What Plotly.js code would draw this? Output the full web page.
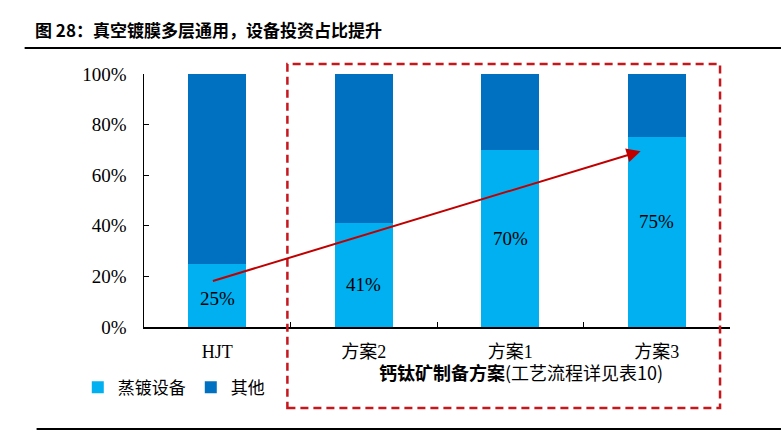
<!DOCTYPE html>
<html>
<head>
<meta charset="utf-8">
<script src="https://cdn.plot.ly/plotly-3.0.1.min.js"></script>
<style>html,body{margin:0;padding:0;background:#fff;}</style>
</head>
<body>
<div id="chart" style="width:781px;height:433px;"></div>
<script>
const categories = ["HJT", "方案2", "方案1", "方案3"];
const evaporation = [25, 41, 70, 75];
const other = [75, 59, 30, 25];
const shareLabels = ["25%", "41%", "70%", "75%"];

const serif = "Liberation Serif, Noto Sans CJK SC, serif";
const cjk = "Noto Sans CJK SC, sans-serif";
const labelShift = [-3, -9, 0, 11];

const traces = [
  {
    type: "bar",
    name: "蒸镀设备",
    x: categories,
    y: evaporation,
    marker: { color: "#00B0F0" },
    hoverinfo: "skip",
  },
  {
    type: "bar",
    name: "其他",
    x: categories,
    y: other,
    marker: { color: "#0070C0" },
    hoverinfo: "skip",
  },
];

const annotations = categories.map((c, i) => ({
  x: c,
  y: evaporation[i] / 2,
  xref: "x",
  yref: "y",
  text: shareLabels[i],
  showarrow: false,
  yshift: labelShift[i],
  font: { family: serif, size: 19, color: "#000" },
}));

// trend arrow from HJT to 方案3
annotations.push({
  x: 2.89, y: 69.5, ax: -0.04, ay: 18,
  xref: "x", yref: "y", axref: "x", ayref: "y",
  text: "", showarrow: true,
  arrowhead: 2, arrowsize: 1.4, arrowwidth: 2, arrowcolor: "#C00000",
});

annotations.push({
  x: 0.644, y: -0.237, xref: "paper", yref: "paper",
  text: "<b>钙钛矿制备方案</b>(工艺流程详见表10)",
  showarrow: false,
  font: { family: cjk, size: 18, color: "#000" },
});

const layout = {
  width: 781,
  height: 433,
  margin: { l: 143.5, r: 51, t: 74, b: 106 },
  paper_bgcolor: "#fff",
  plot_bgcolor: "#fff",
  barmode: "stack",
  bargap: 0.605,
  title: {
    text: "<b>图 28：真空镀膜多层通用，设备投资占比提升</b>",
    x: 35 / 781, xanchor: "left", xref: "container",
    y: 1 - 31 / 433, yanchor: "middle",
    font: { family: cjk, size: 17, color: "#000" },
  },
  xaxis: {
    showline: true, linecolor: "#000", linewidth: 1.5,
    ticks: "inside", tickson: "boundaries", ticklen: 5, tickcolor: "#000",
    tickfont: { family: serif, size: 18, color: "#000" },
    ticklabelstandoff: 8,
    showgrid: false, zeroline: false,
  },
  yaxis: {
    range: [0, 100], dtick: 20, ticksuffix: "%",
    showline: true, linecolor: "#000", linewidth: 1.5,
    ticks: "inside", ticklen: 5, tickcolor: "#000",
    tickfont: { family: serif, size: 19, color: "#000" },
    ticklabelstandoff: 12,
    showgrid: false, zeroline: false,
  },
  showlegend: true,
  legend: {
    orientation: "h",
    x: -0.113, xanchor: "left",
    y: -0.24, yanchor: "middle",
    font: { family: cjk, size: 17, color: "#000" },
    traceorder: "normal",
  },
  annotations: annotations,
  shapes: [
    {
      type: "rect", xref: "paper", yref: "paper",
      x0: 0.2447, x1: 0.983, y0: -0.32, y1: 1.0395,
      line: { color: "#C8161D", width: 2.5, dash: "8px,5px" },
    },
    {
      type: "line", xref: "paper", yref: "paper",
      x0: -0.2037, x1: 1.087, y0: 1.1028, y1: 1.1028,
      line: { color: "#000", width: 2 },
    },
    {
      type: "line", xref: "paper", yref: "paper",
      x0: -0.1833, x1: 1.087, y0: -0.403, y1: -0.403,
      line: { color: "#000", width: 2 },
    },
  ],
};

Plotly.newPlot("chart", traces, layout, { displayModeBar: false, staticPlot: true });
</script>
</body>
</html>
